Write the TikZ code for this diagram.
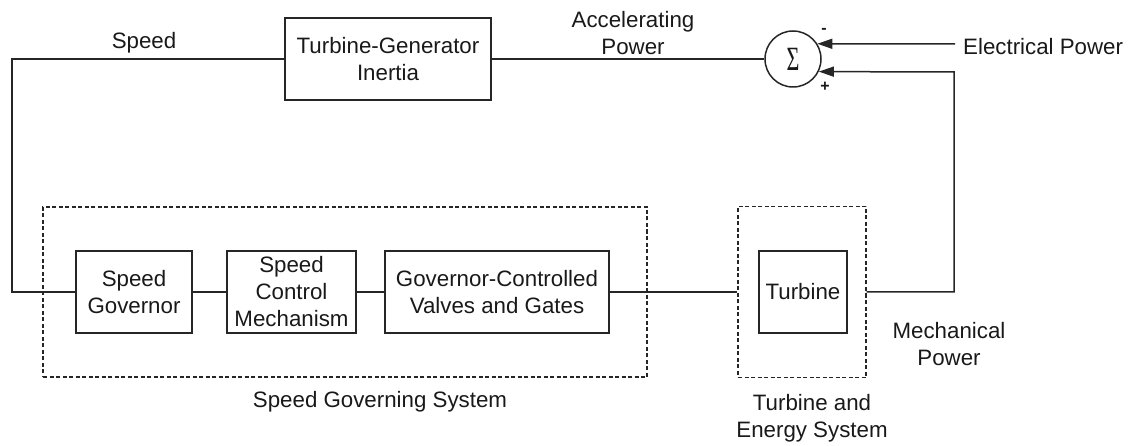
\documentclass[tikz,border=0pt]{standalone}
\usepackage{fontspec}
\setmainfont{Liberation Sans}
\newfontfamily\sigfont{Liberation Serif}
\usepackage{graphicx}
\usetikzlibrary{arrows.meta}
\begin{document}
\begin{tikzpicture}[x=1pt,y=-1pt,
  every node/.style={font=\fontsize{22.3}{27}\selectfont, text=black!90},
  blk/.style={draw=black!85, line width=1.5pt, minimum height=82pt, inner sep=0pt, align=center},
  grp/.style={draw=black!85, line width=1.3pt, dash pattern=on 4pt off 2.5pt, inner sep=0pt},
  wire/.style={draw=black!85, line width=1.5pt},
  arr/.style={wire, -{Triangle[length=15pt,width=10pt]}},
  lbl/.style={align=center, inner sep=0pt}]
\useasboundingbox (0,0) rectangle (1135,446);

% top row
\node[blk, minimum width=206pt] (tg) at (388,59) {Turbine-Generator\\Inertia};
\node[draw=black!85, line width=1.5pt, circle, minimum size=56pt, inner sep=0pt] (sum) at (793,59)
  {\scalebox{0.65}[1]{\sigfont\fontsize{34}{34}\selectfont Σ}};

% lower blocks
\node[blk, minimum width=116pt] (sg) at (134,292) {Speed\\Governor};
\node[blk, minimum width=129pt] (scm) at (291.5,292) {Speed\\Control\\Mechanism};
\node[blk, minimum width=224pt] (vg) at (497,292) {Governor-Controlled\\Valves and Gates};
\node[blk, minimum width=88pt] (tb) at (803,292) {Turbine};

% dashed groups
\node[grp, minimum width=604pt, minimum height=170pt] (sgs) at (345,292) {};
\node[grp, minimum width=128pt, minimum height=171pt] (tes) at (802,292) {};

% helper coordinates
\coordinate (lc) at (12,292);
\coordinate (mc) at (954,72);
\coordinate (ep) at (955,44);

% connectors
\draw[wire] (tg.west) -| (lc) -- (sg.west);
\draw[wire] (sg.east) -- (scm.west);
\draw[wire] (scm.east) -- (vg.west);
\draw[wire] (vg.east) -- (tes.west);
\draw[wire] (tg.east) -- (sum.west);
\draw[arr] (tes.east) -| (mc) -- (sum.-26.4);
\draw[arr] (ep) -- (sum.32.8);

% labels
\node[lbl] (lspeed) at (144,43) {Speed};
\node[lbl] (lacc) at (633,33) {Accelerating\\Power};
\node[lbl, anchor=west] (lel) at (963,47) {Electrical Power};
\node[lbl] (lmech) at (949,344) {Mechanical\\Power};
\node[lbl] (lsgs) at (380,402) {Speed Governing System};
\node[lbl] (ltes) at (812,418) {Turbine and\\Energy System};
\node[lbl, font=\fontsize{16}{16}\selectfont\bfseries] (lminus) at (824,31) {-};
\node[lbl, font=\fontsize{16}{16}\selectfont\bfseries] (lplus) at (825,87) {+};
\end{tikzpicture}
\end{document}
